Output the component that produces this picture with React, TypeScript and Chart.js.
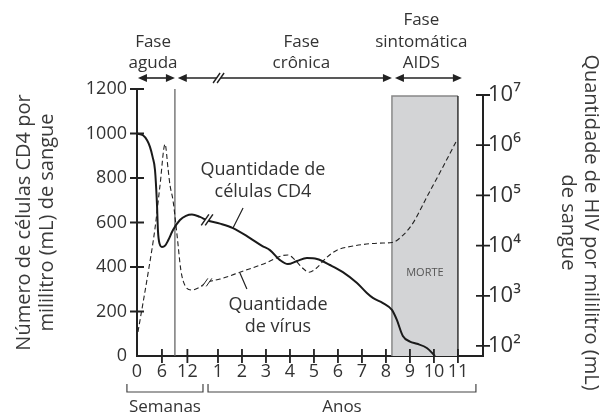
import React, { useEffect, useRef } from "react";
import { Chart, registerables } from "chart.js";
Chart.register(...registerables);

// Time axis positions: 0–2.1 = weeks 0–12; year k sits at 2.375 + k
const tickPositions = [0, 1.04, 2.1, 3.375, 4.375, 5.375, 6.375, 7.375, 8.375, 9.375, 10.375, 11.375, 12.375, 13.375];
const tickLabels = ["0", "6", "12", "1", "2", "3", "4", "5", "6", "7", "8", "9", "10", "11"];
const cd4Ticks = [0, 200, 400, 600, 800, 1000, 1200];
const hivTicks = [1e2, 1e3, 1e4, 1e5, 1e6, 1e7];
const hivTickLabels = ["10²", "10³", "10⁴", "10⁵", "10⁶", "10⁷"];

// CD4 cells per mL (left axis)
const cd4Pos = [0, 0.25, 0.42, 0.54, 0.65, 0.75, 0.83, 0.875, 0.94, 1.04, 1.17, 1.3, 1.5, 1.79, 2.04, 2.29, 2.625, 2.92, 3.46, 4.0, 4.71, 5.21, 5.54, 5.96, 6.29, 6.67, 7.08, 7.5, 8.04, 8.58, 9.17, 9.58, 9.83, 10.25, 10.625, 10.83, 11.08, 11.375, 11.67, 12.08, 12.42];
const cd4Values = [1000, 992, 970, 940, 895, 836, 688, 560, 505, 490, 496, 520, 566, 611, 630, 636, 625, 610, 595, 575, 530, 495, 476, 431, 413, 427, 440, 436, 409, 377, 328, 283, 261, 238, 207, 162, 90, 65, 55, 36, 0];

// HIV copies per mL (right, log axis)
const virusPos = [0.04, 0.46, 0.75, 0.96, 1.17, 1.29, 1.375, 1.5, 1.67, 1.83, 2.0, 2.29, 2.625, 2.92, 3.46, 4.29, 5.46, 6.0, 6.29, 6.58, 6.92, 7.17, 7.46, 7.92, 8.33, 9.0, 10.125, 10.625, 11.08, 11.5, 12.08, 12.75, 13.33];
const virusValues = [190, 2800, 22000, 160000, 1050000, 355000, 160000, 80000, 16000, 3200, 1600, 1300, 1500, 1850, 2150, 2950, 4700, 6200, 6500, 5200, 3500, 2950, 3500, 5900, 8100, 9800, 11200, 11500, 16000, 28000, 93000, 370000, 1260000];

// Phases (time-axis positions)
const acuteEnd = 1.58;
const deathStart = 10.625;
const deathEnd = 13.375;
const breakPos = 2.92;

const FONT = "'Open Sans', sans-serif";
const TEXT = "#333";

function seriesPoints(xs: number[], ys: number[]) {
  return xs.map((x, i) => ({ x, y: ys[i] }));
}

const decor = {
  id: "decor",
  beforeDatasetsDraw(chart: any) {
    const { ctx, chartArea, scales } = chart;
    const x = scales.x, y1 = scales.y1;
    ctx.save();
    const bx0 = x.getPixelForValue(deathStart), bx1 = x.getPixelForValue(deathEnd);
    const by0 = y1.getPixelForValue(1e7) + 1;
    ctx.fillStyle = "#d3d4d6";
    ctx.fillRect(bx0, by0, bx1 - bx0, chartArea.bottom - by0);
    ctx.strokeStyle = "#888";
    ctx.lineWidth = 1.5;
    ctx.beginPath();
    ctx.moveTo(bx0, chartArea.bottom); ctx.lineTo(bx0, by0); ctx.lineTo(bx1, by0);
    ctx.stroke();
    ctx.strokeStyle = "#333";
    ctx.beginPath();
    ctx.moveTo(bx1, by0); ctx.lineTo(bx1, chartArea.bottom);
    ctx.stroke();
    ctx.fillStyle = "#555";
    ctx.font = `11px ${FONT}`;
    ctx.textAlign = "center";
    ctx.textBaseline = "middle";
    ctx.fillText("MORTE", (bx0 + bx1) / 2, scales.y.getPixelForValue(373));
    const vx = x.getPixelForValue(acuteEnd);
    ctx.strokeStyle = "#666";
    ctx.lineWidth = 1.3;
    ctx.beginPath();
    ctx.moveTo(vx, chartArea.top); ctx.lineTo(vx, chartArea.bottom);
    ctx.stroke();
    ctx.restore();
  },
  afterDatasetsDraw(chart: any) {
    const { ctx, chartArea, scales } = chart;
    const x = scales.x, y = scales.y, y1 = scales.y1;
    const L = chartArea.left, R = chartArea.right, T = chartArea.top, B = chartArea.bottom;
    ctx.save();
    ctx.strokeStyle = "#222";
    ctx.lineWidth = 2;
    ctx.beginPath();
    ctx.moveTo(R, y1.getPixelForValue(1e7)); ctx.lineTo(R, B);
    ctx.stroke();
    ctx.lineWidth = 1.8;
    ctx.beginPath();
    cd4Ticks.forEach((v) => { if (v > 0) { const p = y.getPixelForValue(v); ctx.moveTo(L - 7, p); ctx.lineTo(L + 7, p); } });
    hivTicks.forEach((v) => { const p = y1.getPixelForValue(v); ctx.moveTo(R - 7, p); ctx.lineTo(R + 7, p); });
    tickPositions.forEach((v) => { if (v > 0) { const p = x.getPixelForValue(v); ctx.moveTo(p, B - 7); ctx.lineTo(p, B + 7); } });
    ctx.stroke();

    const slash = (cx: number, cy: number, h: number, gap: number, white: boolean, w: number) => {
      const dx = h * 0.35;
      if (white) {
        ctx.fillStyle = "#fff";
        ctx.beginPath();
        ctx.moveTo(cx - gap / 2 - dx, cy + h / 2);
        ctx.lineTo(cx - gap / 2 + dx, cy - h / 2);
        ctx.lineTo(cx + gap / 2 + dx, cy - h / 2);
        ctx.lineTo(cx + gap / 2 - dx, cy + h / 2);
        ctx.closePath();
        ctx.fill();
      }
      ctx.lineWidth = w;
      ctx.strokeStyle = "#222";
      ctx.beginPath();
      [-gap / 2, gap / 2].forEach((o) => {
        ctx.moveTo(cx + o - dx, cy + h / 2);
        ctx.lineTo(cx + o + dx, cy - h / 2);
      });
      ctx.stroke();
    };
    slash(x.getPixelForValue(breakPos), y.getPixelForValue(612), 11, 4, true, 1.5);
    slash(x.getPixelForValue(breakPos), y1.getPixelForValue(1850), 8, 4, true, 1);

    ctx.fillStyle = TEXT;
    ctx.font = `18px ${FONT}`;
    ctx.textAlign = "center";
    ctx.textBaseline = "middle";
    ctx.fillText("Quantidade de", x.getPixelForValue(5.25), y.getPixelForValue(836));
    ctx.fillText("células CD4", x.getPixelForValue(5.25), y.getPixelForValue(737));
    ctx.fillText("Quantidade", x.getPixelForValue(5.875), y.getPixelForValue(229));
    ctx.fillText("de vírus", x.getPixelForValue(5.875), y.getPixelForValue(130));
    ctx.strokeStyle = "#222";
    ctx.lineWidth = 1.2;
    ctx.beginPath();
    ctx.moveTo(x.getPixelForValue(4.42), y.getPixelForValue(665));
    ctx.lineTo(x.getPixelForValue(4.0), y.getPixelForValue(575));
    ctx.moveTo(x.getPixelForValue(4.29), y.getPixelForValue(373));
    ctx.lineTo(x.getPixelForValue(4.58), y.getPixelForValue(301));
    ctx.stroke();

    const ay = T - 11;
    const arrow = (a: number, b: number) => {
      const xa = x.getPixelForValue(a), xb = x.getPixelForValue(b);
      ctx.strokeStyle = "#222";
      ctx.fillStyle = "#222";
      ctx.lineWidth = 1.6;
      ctx.beginPath();
      ctx.moveTo(xa + 4, ay); ctx.lineTo(xb - 4, ay);
      ctx.stroke();
      ctx.beginPath();
      ctx.moveTo(xa, ay); ctx.lineTo(xa + 9, ay - 4); ctx.lineTo(xa + 9, ay + 4); ctx.closePath();
      ctx.moveTo(xb, ay); ctx.lineTo(xb - 9, ay - 4); ctx.lineTo(xb - 9, ay + 4); ctx.closePath();
      ctx.fill();
    };
    arrow(0.04, 1.58);
    arrow(1.7, 10.625);
    arrow(10.75, 13.54);
    slash(x.getPixelForValue(3.4), ay, 10, 4, true, 1.4);

    ctx.fillStyle = TEXT;
    ctx.font = `17px ${FONT}`;
    ctx.textAlign = "center";
    ctx.textBaseline = "middle";
    const c1 = x.getPixelForValue(0.67), c2 = x.getPixelForValue(6.85), c3 = x.getPixelForValue(11.85);
    ctx.fillText("Fase", c1, T - 47);
    ctx.fillText("aguda", c1, T - 26);
    ctx.fillText("Fase", c2, T - 47);
    ctx.fillText("crônica", c2, T - 26);
    ctx.fillText("Fase", c3, T - 69);
    ctx.fillText("sintomática", c3, T - 47);
    ctx.fillText("AIDS", c3, T - 26);

    const bracket = (a: number, b: number, label: string) => {
      const xa = x.getPixelForValue(a), xb = x.getPixelForValue(b);
      ctx.strokeStyle = "#444";
      ctx.lineWidth = 1.2;
      ctx.beginPath();
      ctx.moveTo(xa, B + 28); ctx.lineTo(xa, B + 36); ctx.lineTo(xb, B + 36); ctx.lineTo(xb, B + 28);
      ctx.stroke();
      ctx.fillStyle = TEXT;
      ctx.fillText(label, (xa + xb) / 2, B + 51);
    };
    bracket(-0.42, 2.75, "Semanas");
    bracket(2.96, 14.125, "Anos");
    ctx.restore();
  },
};

export default function App() {
  const ref = useRef<HTMLCanvasElement>(null);
  useEffect(() => {
    if (!ref.current) return;
    Chart.defaults.font.family = FONT;
    const chart = new Chart(ref.current, {
      type: "line",
      data: {
        datasets: [
          {
            label: "CD4",
            data: seriesPoints(cd4Pos, cd4Values),
            yAxisID: "y",
            borderColor: "#1a1a1a",
            borderWidth: 2,
            pointRadius: 0,
            cubicInterpolationMode: "monotone",
            fill: false,
          },
          {
            label: "HIV",
            data: seriesPoints(virusPos, virusValues),
            yAxisID: "y1",
            borderColor: "#222",
            borderWidth: 1.1,
            borderDash: [5, 3],
            pointRadius: 0,
            cubicInterpolationMode: "monotone",
            fill: false,
          },
        ],
      },
      options: {
        responsive: false,
        animation: false,
        layout: { padding: { top: 89, left: 0, right: 0, bottom: 0 } },
        plugins: { legend: { display: false }, tooltip: { enabled: false } },
        scales: {
          x: {
            type: "linear",
            position: "bottom",
            min: 0,
            max: 14.42,
            afterFit: (s: any) => { s.height = 62; },
            afterBuildTicks: (s: any) => { s.ticks = tickPositions.map((v) => ({ value: v })); },
            ticks: {
              autoSkip: false,
              maxRotation: 0,
              color: TEXT,
              font: { size: 18 },
              padding: 5,
              callback: (_v: any, i: number) => tickLabels[i],
            },
            grid: { display: false, drawTicks: false },
            border: { display: true, color: "#222", width: 2 },
          },
          y: {
            type: "linear",
            position: "left",
            min: 0,
            max: 1200,
            afterFit: (s: any) => { s.width = 137; },
            afterBuildTicks: (s: any) => { s.ticks = cd4Ticks.map((v) => ({ value: v })); },
            ticks: { color: TEXT, font: { size: 18 }, padding: 10, callback: (v: any) => String(v) },
            grid: { display: false, drawTicks: false },
            border: { display: true, color: "#222", width: 2 },
            title: {
              display: true,
              text: ["Número de células CD4 por", "mililitro (mL) de sangue"],
              color: "#3a3a3a",
              font: { size: 20, lineHeight: 1.15 },
              padding: { top: 13, bottom: 0 },
            },
          },
          y1: {
            type: "logarithmic",
            position: "right",
            min: 63.1,
            max: 13182567,
            afterFit: (s: any) => { s.width = 126; },
            afterBuildTicks: (s: any) => { s.ticks = hivTicks.map((v) => ({ value: v })); },
            ticks: {
              color: TEXT,
              font: { size: 22 },
              padding: 5,
              callback: (_v: any, i: number) => hivTickLabels[i],
            },
            grid: { display: false, drawTicks: false },
            border: { display: false },
            title: {
              display: true,
              text: ["Quantidade de HIV por mililitro (mL)", "de sangue"],
              color: "#3a3a3a",
              font: { size: 20, lineHeight: 1.15 },
              padding: { top: 7, bottom: 0 },
            },
          },
        },
      },
      plugins: [decor],
    });
    return () => chart.destroy();
  }, []);
  return (
    <div style={{ position: "fixed", left: 0, top: 0, width: 609, height: 418, background: "#fff" }}>
      <canvas ref={ref} width={609} height={418} />
    </div>
  );
}
